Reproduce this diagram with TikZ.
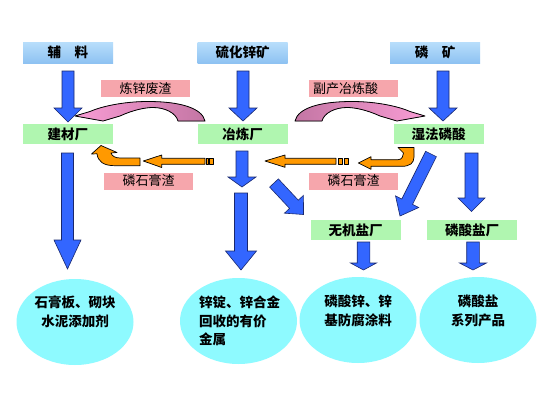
\documentclass[tikz,border=0pt]{standalone}
\usepackage{fontspec}
\newfontfamily\cjk{Noto Sans CJK SC}
\usetikzlibrary{calc,shapes.geometric}
\definecolor{topA}{RGB}{184,222,251}
\definecolor{topB}{RGB}{142,194,242}
\definecolor{greenbox}{RGB}{176,246,176}
\definecolor{pinkbox}{RGB}{246,166,172}
\definecolor{cyanell}{RGB}{142,250,255}
\definecolor{arrowblue}{RGB}{51,102,255}
\definecolor{arrowedge}{RGB}{25,40,110}
\definecolor{orangearr}{RGB}{255,153,0}
\definecolor{pinkL}{RGB}{248,156,212}
\definecolor{pinkD}{RGB}{196,118,164}
\newcommand\blockarrow[6]{%
  \coordinate (bah) at ($(#3)!#6!(#2)$);
  \filldraw[#1] ($(#2)!#4!90:(#3)$) -- ($(bah)!#4!90:(#3)$) -- ($(bah)!#5!90:(#3)$) -- (#3)
    -- ($(bah)!#5!-90:(#3)$) -- ($(bah)!#4!-90:(#3)$) -- ($(#2)!#4!-90:(#3)$) -- cycle;
}
\begin{document}
\begin{tikzpicture}[x=1pt,y=-1pt,
  boldtxt/.style={font={\cjk\bfseries\fontsize{13.5}{16}\selectfont}},
  thintxt/.style={font={\cjk\fontsize{13}{16}\selectfont}},
  topbox/.style={boldtxt, rectangle, top color=topA, bottom color=topB, minimum width=90pt, minimum height=21pt, inner sep=0pt},
  greenbx/.style={boldtxt, rectangle, fill=greenbox, minimum width=90pt, minimum height=20pt, inner sep=0pt},
  pinkbx/.style={thintxt, rectangle, fill=pinkbox, minimum width=89pt, minimum height=17pt, inner sep=0pt},
  ell/.style={ellipse, fill=cyanell, minimum width=117pt, minimum height=86pt, inner sep=0pt},
  elltext/.style={font={\cjk\bfseries\fontsize{13.5}{18.5}\selectfont}, inner sep=0pt},
  bluearr/.style={fill=arrowblue, draw=arrowedge, line width=0.6pt, line join=miter},
  orangefill/.style={fill=orangearr, draw=black, line width=0.7pt, line join=round},
  pinkarrow/.style={draw=black, line width=0.8pt, line join=round}]
\useasboundingbox (0,0) rectangle (550,413);
\fill[white] (0,0) rectangle (550,413);

% top row
\node[topbox] (fuliao) at (68,52.5) {辅\hspace{1em}料};
\node[topbox] (lhxk) at (242.5,52.5) {硫化锌矿};
\node[topbox] (link) at (435,52.5) {磷\hspace{1em}矿};

% green row
\node[greenbx] (jcc) at (68,134) {建材厂};
\node[greenbx] (ylc) at (242.5,134) {冶炼厂};
\node[greenbx] (sflsn) at (438.5,134) {湿法磷酸};
\node[greenbx] (wjyc) at (355.5,230) {无机盐厂};
\node[greenbx] (lsyc) at (472,230) {磷酸盐厂};

% pink labels
\node[pinkbx] (lxfz) at (145.5,88.5) {炼锌废渣};
\node[pinkbx, text width=81pt, align=left, inner xsep=4pt] (fcyls) at (353.5,88.5) {副产冶炼酸};
\node[pinkbx] (lsgz1) at (148.5,181) {磷石膏渣};
\node[pinkbx] (lsgz2) at (353.5,181) {磷石膏渣};

% ellipses
\node[ell] (e1) at (75,322) {};
\node[ell] (e2) at (238.5,321) {};
\node[ell] (e3) at (358,320) {};
\node[ell] (e4) at (478,320) {};
\node[elltext, align=center] (e1t) at (75,312) {石膏板、砌块\\水泥添加剂};
\node[elltext, align=left, anchor=west] (e2t) at (199,321) {锌锭、锌合金\\回收的有价\\金属};
\node[elltext, align=center] (e3t) at (358,311) {磷酸锌、锌\\基防腐涂料};
\node[elltext, align=center] (e4t) at (478,311) {磷酸盐\\系列产品};

% blue arrows
\coordinate (a1s) at (68,71);    \coordinate (a1e) at (68,122);
\coordinate (a2s) at (243,71);   \coordinate (a2e) at (243,121);
\coordinate (a3s) at (443,71);   \coordinate (a3e) at (443,121);
\coordinate (a4s) at (67.5,153); \coordinate (a4e) at (67.5,269);
\coordinate (a5s) at (242,151);  \coordinate (a5e) at (242,187);
\coordinate (a6s) at (241,193);  \coordinate (a6e) at (241,270);
\coordinate (a7s) at (471.5,153);\coordinate (a7e) at (471.5,211.5);
\coordinate (a8s) at (363.5,242);\coordinate (a8e) at (363.5,270);
\coordinate (a9s) at (473,242);  \coordinate (a9e) at (473,270);
\coordinate (a10s) at (274,183); \coordinate (a10e) at (303.5,214.5);
\coordinate (a11s) at (431,154); \coordinate (a11e) at (400,216);
\blockarrow{bluearr}{a1s}{a1e}{6pt}{14pt}{14pt}
\blockarrow{bluearr}{a2s}{a2e}{6pt}{14pt}{13pt}
\blockarrow{bluearr}{a3s}{a3e}{6pt}{14pt}{13pt}
\blockarrow{bluearr}{a4s}{a4e}{6pt}{13.5pt}{29pt}
\blockarrow{bluearr}{a5s}{a5e}{6pt}{14pt}{10pt}
\blockarrow{bluearr}{a6s}{a6e}{6.5pt}{15.5pt}{19pt}
\blockarrow{bluearr}{a7s}{a7e}{6.5pt}{13.5pt}{13.5pt}
\blockarrow{bluearr}{a8s}{a8e}{6.3pt}{13pt}{7pt}
\blockarrow{bluearr}{a9s}{a9e}{6.3pt}{13.5pt}{7pt}
\blockarrow{bluearr}{a10s}{a10e}{6pt}{13pt}{14pt}
\blockarrow{bluearr}{a11s}{a11e}{6pt}{13pt}{16pt}

% pink curved arrows
\filldraw[pinkarrow, left color=pinkL, right color=pinkD]
  (205,121) .. controls (202,108) and (180,101.5) .. (148,101.5)
  .. controls (122,101.5) and (100,107) .. (90,111.5)
  -- (75,116) -- (103,121) -- (120,116)
  .. controls (133,110) and (145,107.5) .. (153,107.5)
  .. controls (165,107.5) and (176,113) .. (178,121) -- cycle;
\filldraw[pinkarrow, left color=pinkD, right color=pinkL]
  (295,121) .. controls (298,108) and (320,101.5) .. (352,101.5)
  .. controls (378,101.5) and (400,107) .. (410,111.5)
  -- (425,116) -- (397,121) -- (380,116)
  .. controls (367,110) and (355,107.5) .. (347,107.5)
  .. controls (335,107.5) and (324,113) .. (322,121) -- cycle;

% orange arrows, left
\filldraw[orangefill] (205,158.3) -- (161.7,158.3) -- (161.7,155) -- (143.3,161) -- (161.7,167.5) -- (161.7,164.3) -- (205,164.3) -- cycle;
\filldraw[orangefill] (206,158.3) rectangle (208,164.3);
\filldraw[orangefill] (209.3,158.3) rectangle (213.3,164.3);
\filldraw[orangefill] (140,158) -- (120,158) .. controls (115,158) and (112,156) .. (111,153)
  -- (117,152.5) -- (101,145.5) -- (91.5,154) -- (97,153.8)
  .. controls (98,162) and (104,165.7) .. (115,165.7) -- (140,165.7) -- cycle;
% orange arrows, right
\filldraw[orangefill] (336,158.3) -- (285,158.3) -- (285,155) -- (265,161) -- (285,167.3) -- (285,164.3) -- (336,164.3) -- cycle;
\filldraw[orangefill] (338.7,158.3) rectangle (342.3,164.3);
\filldraw[orangefill] (344.3,158.3) rectangle (348.3,164.3);
\filldraw[orangefill] (398,147.5) -- (414,147.5) -- (414,157) .. controls (414,163) and (410,166.3) .. (402,166.3)
  -- (371,166.3) -- (371,169.3) -- (358.3,163) -- (371,156.7) -- (371,159.7) -- (398,159.7)
  .. controls (402,159.7) and (403.5,156) .. (403.5,153) -- cycle;
\end{tikzpicture}
\end{document}
